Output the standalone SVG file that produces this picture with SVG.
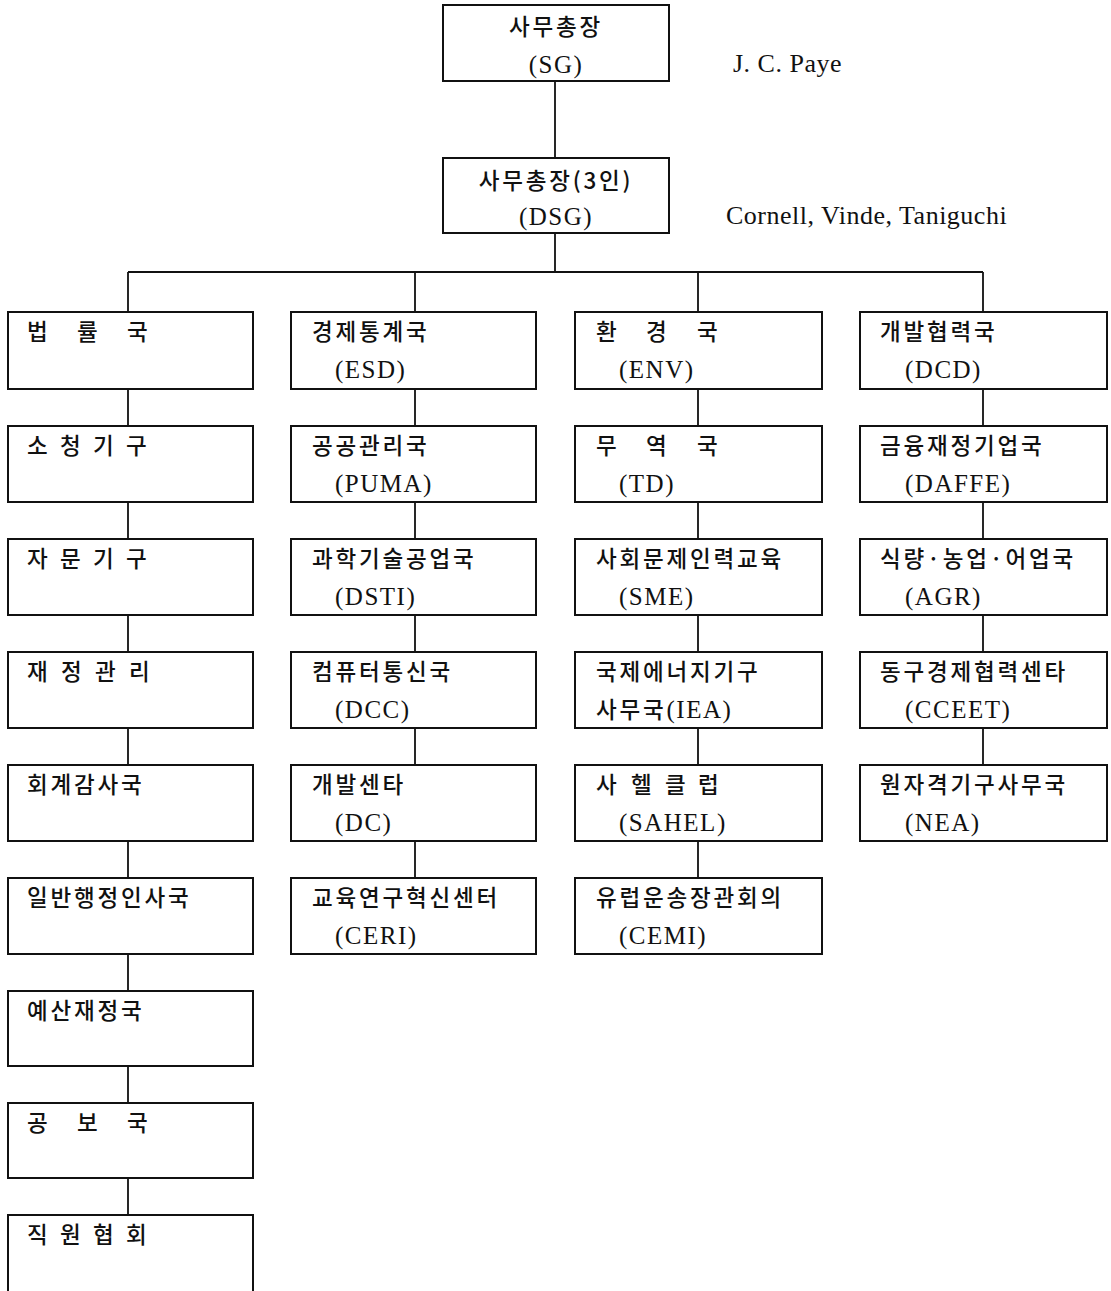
<svg xmlns="http://www.w3.org/2000/svg" width="1111" height="1291" viewBox="0 0 1111 1291">
<style>
.box{fill:#fff;stroke:#111;stroke-width:2}
.ln{stroke:#111;stroke-width:1.8;fill:none}
.ko{font-family:"Noto Sans CJK KR","Noto Sans",sans-serif;font-size:22.5px;font-weight:500;letter-spacing:2.8px;fill:#111}
.en{font-family:"Liberation Serif",serif;font-size:25px;letter-spacing:1.5px;fill:#111}
.nm{font-family:"Liberation Serif",serif;font-size:26px;letter-spacing:0.5px;fill:#111}
</style>
<rect width="1111" height="1291" fill="#fff"/>
<g id="connectors">
<path class="ln" d="M555 81V158M555 233V272M128 272H983M128 272V312M415 272V312M698 272V312M983 272V312"/>
<path class="ln" d="M128 389V426M128 502V539M128 615V652M128 728V765M128 841V878M128 954V991M128 1066V1103M128 1178V1215"/>
<path class="ln" d="M415 389V426M415 502V539M415 615V652M415 728V765M415 841V878"/>
<path class="ln" d="M698 389V426M698 502V539M698 615V652M698 728V765M698 841V878"/>
<path class="ln" d="M983 389V426M983 502V539M983 615V652M983 728V765"/>
</g>
<g id="sg"><rect class="box" x="443" y="5" width="226" height="76"/><text class="ko" x="556" y="35" text-anchor="middle">사무총장</text><text class="en" x="556" y="73" text-anchor="middle">(SG)</text></g>
<text id="sg-name" class="nm" x="733" y="72">J. C. Paye</text>
<g id="dsg"><rect class="box" x="443" y="158" width="226" height="75"/><text class="ko" x="556" y="189" text-anchor="middle">사무총장(3인)</text><text class="en" x="556" y="225" text-anchor="middle">(DSG)</text></g>
<text id="dsg-name" class="nm" x="726" y="224">Cornell, Vinde, Taniguchi</text>

<g id="c1r1"><rect class="box" x="8" y="312" width="245" height="77"/><text class="ko" x="27 77 127" y="340">법률국</text></g>
<g id="c1r2"><rect class="box" x="8" y="426" width="245" height="76"/><text class="ko" x="27 60 93 126" y="454">소청기구</text></g>
<g id="c1r3"><rect class="box" x="8" y="539" width="245" height="76"/><text class="ko" x="27 60 93 126" y="567">자문기구</text></g>
<g id="c1r4"><rect class="box" x="8" y="652" width="245" height="76"/><text class="ko" x="27 61 95 129" y="680">재정관리</text></g>
<g id="c1r5"><rect class="box" x="8" y="765" width="245" height="76"/><text class="ko" x="27" y="793">회계감사국</text></g>
<g id="c1r6"><rect class="box" x="8" y="878" width="245" height="76"/><text class="ko" x="27" y="906">일반행정인사국</text></g>
<g id="c1r7"><rect class="box" x="8" y="991" width="245" height="75"/><text class="ko" x="27" y="1019">예산재정국</text></g>
<g id="c1r8"><rect class="box" x="8" y="1103" width="245" height="75"/><text class="ko" x="27 77 127" y="1131">공보국</text></g>
<g id="c1r9"><rect class="box" x="8" y="1215" width="245" height="80"/><text class="ko" x="27 60 93 126" y="1243">직원협회</text></g>

<g id="c2r1"><rect class="box" x="291" y="312" width="245" height="77"/><text class="ko" x="312" y="340">경제통계국</text><text class="en" x="335" y="378">(ESD)</text></g>
<g id="c2r2"><rect class="box" x="291" y="426" width="245" height="76"/><text class="ko" x="312" y="454">공공관리국</text><text class="en" x="335" y="492">(PUMA)</text></g>
<g id="c2r3"><rect class="box" x="291" y="539" width="245" height="76"/><text class="ko" x="312" y="567">과학기술공업국</text><text class="en" x="335" y="605">(DSTI)</text></g>
<g id="c2r4"><rect class="box" x="291" y="652" width="245" height="76"/><text class="ko" x="312" y="680">컴퓨터통신국</text><text class="en" x="335" y="718">(DCC)</text></g>
<g id="c2r5"><rect class="box" x="291" y="765" width="245" height="76"/><text class="ko" x="312" y="793">개발센타</text><text class="en" x="335" y="831">(DC)</text></g>
<g id="c2r6"><rect class="box" x="291" y="878" width="245" height="76"/><text class="ko" x="312" y="906">교육연구혁신센터</text><text class="en" x="335" y="944">(CERI)</text></g>

<g id="c3r1"><rect class="box" x="575" y="312" width="247" height="77"/><text class="ko" x="596 646 697" y="340">환경국</text><text class="en" x="619" y="378">(ENV)</text></g>
<g id="c3r2"><rect class="box" x="575" y="426" width="247" height="76"/><text class="ko" x="596 646 697" y="454">무역국</text><text class="en" x="619" y="492">(TD)</text></g>
<g id="c3r3"><rect class="box" x="575" y="539" width="247" height="76"/><text class="ko" x="596" y="567">사회문제인력교육</text><text class="en" x="619" y="605">(SME)</text></g>
<g id="c3r4"><rect class="box" x="575" y="652" width="247" height="76"/><text class="ko" x="596" y="680">국제에너지기구</text><text class="ko" x="596" y="718">사무국<tspan class="en">(IEA)</tspan></text></g>
<g id="c3r5"><rect class="box" x="575" y="765" width="247" height="76"/><text class="ko" x="596 631 665 698" y="793">사헬클럽</text><text class="en" x="619" y="831">(SAHEL)</text></g>
<g id="c3r6"><rect class="box" x="575" y="878" width="247" height="76"/><text class="ko" x="596" y="906">유럽운송장관회의</text><text class="en" x="619" y="944">(CEMI)</text></g>

<g id="c4r1"><rect class="box" x="860" y="312" width="247" height="77"/><text class="ko" x="880" y="340">개발협력국</text><text class="en" x="905" y="378">(DCD)</text></g>
<g id="c4r2"><rect class="box" x="860" y="426" width="247" height="76"/><text class="ko" x="880" y="454">금융재정기업국</text><text class="en" x="905" y="492">(DAFFE)</text></g>
<g id="c4r3"><rect class="box" x="860" y="539" width="247" height="76"/><text class="ko" x="880" y="567">식량·농업·어업국</text><text class="en" x="905" y="605">(AGR)</text></g>
<g id="c4r4"><rect class="box" x="860" y="652" width="247" height="76"/><text class="ko" x="880" y="680">동구경제협력센타</text><text class="en" x="905" y="718">(CCEET)</text></g>
<g id="c4r5"><rect class="box" x="860" y="765" width="247" height="76"/><text class="ko" x="880" y="793">원자격기구사무국</text><text class="en" x="905" y="831">(NEA)</text></g>
</svg>
